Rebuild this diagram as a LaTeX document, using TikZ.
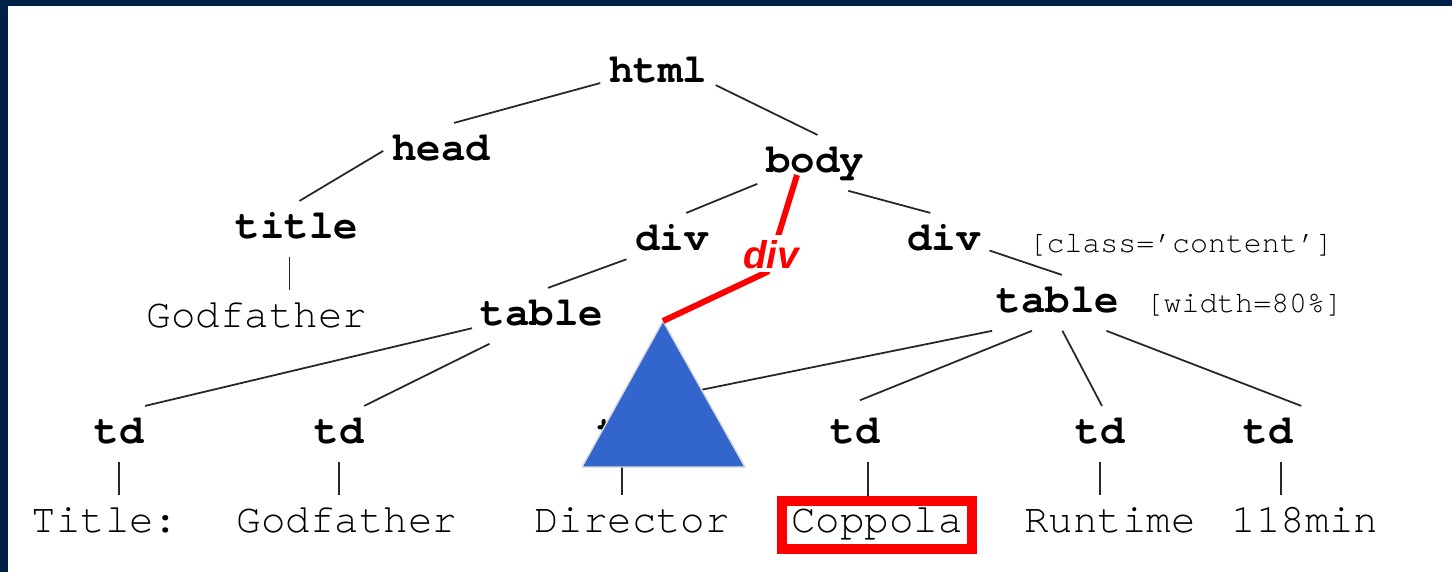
\documentclass[tikz,border=0pt]{standalone}
\usepackage{fontspec}
\setmainfont{Liberation Serif}
\setsansfont{Liberation Sans}
\setmonofont{TeX Gyre Cursor}
\definecolor{slidenavy}{RGB}{0,33,71}
\definecolor{treeblue}{RGB}{51,102,204}
\tikzset{
	% element tags in bold, text content in plain typewriter
	tag node/.style={font=\ttfamily\bfseries\fontsize{11.6}{14}\selectfont,anchor=base,
		text height=7.5pt,text depth=2.3pt,inner xsep=2.3pt,inner ysep=2.85pt},
	leaf node/.style={font=\ttfamily\fontsize{11.6}{14}\selectfont,anchor=base,
		text height=7.5pt,text depth=2.3pt,inner xsep=2.3pt,inner ysep=2.85pt},
	attr node/.style={font=\ttfamily\fontsize{8.5}{10}\selectfont,anchor=base west,inner sep=0pt},
	hit box/.style={draw=red,line width=2.85pt,inner xsep=2.55pt,inner ysep=1.36pt,
		text height=7.43pt,text depth=3.46pt},
	branch/.style={draw=black!85,line width=0.5pt},
	path line/.style={draw=red,line width=1.7pt}
}
\begin{document}
\begin{tikzpicture}[x=0.01cm,y=-0.01cm]
	% page and frame
	\useasboundingbox (0,0) rectangle (1452,572);
	\fill[white] (0,0) rectangle (1452,572);
	\fill[slidenavy] (0,0) rectangle (1452,6);
	\fill[slidenavy] (0,0) rectangle (8,572);
	
	% element nodes, set on their baselines
	\node[tag node] (html) at (658,82) {html};
	\node[tag node] (head) at (441,160) {head};
	\node[tag node] (body) at (815,172) {body};
	\node[tag node] (title) at (297,238) {title};
	\node[tag node] (div1) at (672,250) {div};
	\node[tag node] (div2) at (944,250) {div};
	\node[tag node] (table1) at (542,325) {table};
	\node[tag node] (table2) at (1058,312) {table};
	\node[attr node] (div2-attr) at (1028,252) {[class=’content’]};
	\node[attr node] (table2-attr) at (1145,312) {[width=80\%]};
	\foreach \cell/\x in {td1/119,td2/339,td3/622,td4/855,td5/1100,td6/1268}
		\node[tag node] (\cell) at (\x,443) {td};
	
	% text content
	\node[leaf node] (title-txt) at (257,327) {Godfather};
	\node[leaf node] (td1-txt) at (105,532) {Title:};
	\node[leaf node] (td2-txt) at (347,532) {Godfather};
	\node[leaf node] (td3-txt) at (632,532) {Director};
	\node[leaf node,hit box] (td4-txt) at (877,532) {Coppola};
	\node[leaf node] (td5-txt) at (1110,532) {Runtime};
	\node[leaf node] (td6-txt) at (1305,532) {118min};
	
	% tree edges
	\draw[branch] (html.190) -- (head.65);
	\draw[branch] (html.348) -- (body.85);
	\draw[branch] (head.west) -- (title.85);
	\draw[branch] (title.255) -- (title.255 |- title-txt.north);
	\draw[branch] (body.200) -- (div1.63);
	\draw[branch] (body.320) -- (div2.116);
	\draw[branch] (div1.202) -- (table1.78);
	\draw[branch] (div2.348) -- (table2.82);
	\draw[branch] (table1.190) -- (td1.47);
	\draw[branch] (table1.208) -- (td2.48);
	\draw[branch] (table2.203) -- (td3.north);
	\draw[branch,shorten >=0.15cm] (table2.227) -- (td4.108);
	\draw[branch] (table2.279) -- (td5.86);
	\draw[branch] (table2.330) -- (td6.north east);
	\foreach \cell/\ang in {td1/270,td2/270,td3/270,td4/295,td5/270,td6/295}
		\draw[branch] (\cell.\ang) -- (\cell.\ang |- \cell-txt.north);
	
	% collapsed subtree and the shortcut path into it
	\coordinate (apex) at (663,321);
	\coordinate (div-top) at (797,175);
	\coordinate (div-bend) at (767,272);
	\filldraw[fill=treeblue,draw=black!15,line width=0.4pt] (apex) -- (582,467) -- (745,467) -- cycle;
	\draw[path line] (div-top) -- (div-bend) -- (apex);
	\node[anchor=base,fill=white,text=red,inner sep=1.1pt,text height=8.2pt,text depth=0pt,
		font=\sffamily\bfseries\itshape\fontsize{11}{13}\selectfont] (div-lbl) at (771,268) {div};
\end{tikzpicture}
\end{document}
